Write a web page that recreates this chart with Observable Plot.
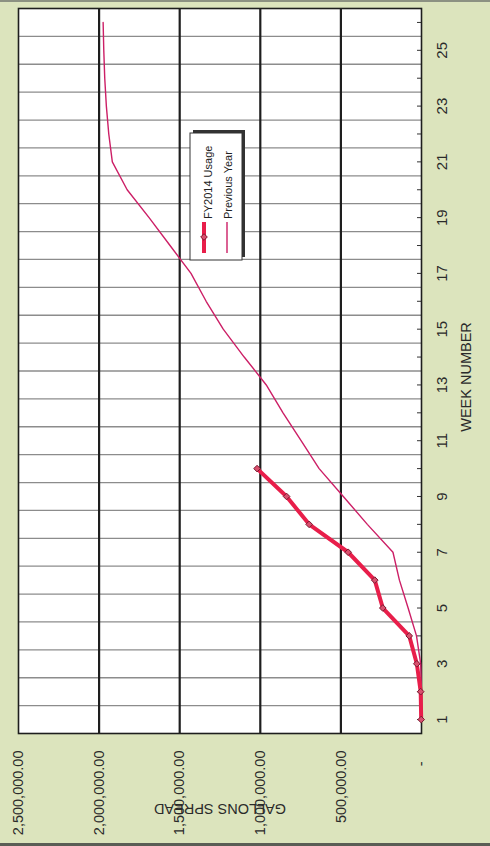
<!DOCTYPE html>
<html>
<head>
<meta charset="utf-8">
<script src="https://cdn.jsdelivr.net/npm/d3@7"></script>
<script src="https://cdn.jsdelivr.net/npm/@observablehq/plot@0.6"></script>
<style>
  html, body { margin: 0; padding: 0; background: #dce4bd; }
  #page { position: relative; width: 490px; height: 846px; background: #dce4bd; overflow: hidden; }
  #page svg { display: block; }
  .edge-top { position: absolute; left: 0; top: 0; width: 490px; height: 2px; background: #8c9182; }
  .edge-bottom { position: absolute; left: 0; bottom: 0; width: 490px; height: 3px; background: #5a5d55; }
  #legend { position: absolute; left: 187px; top: 130px; }
</style>
</head>
<body>
<div id="page"></div>
<script>
// ---- data ----
const weeks = [1, 2, 3, 4, 5, 6, 7, 8, 9, 10, 11, 12, 13, 14, 15, 16, 17, 18, 19, 20, 21, 22, 23, 24, 25, 26];
const weekTickLabels = [1, 3, 5, 7, 9, 11, 13, 15, 17, 19, 21, 23, 25];
const fy2014Usage = [2000, 5000, 29000, 76000, 240000, 290000, 455000, 697000, 837000, 1020000];
const previousYear = [0, 0, 5000, 31000, 83000, 137000, 177000, 336000, 485000, 635000, 747000, 859000, 963000,
  1100000, 1230000, 1336000, 1430000, 1560000, 1690000, 1826000, 1918000, 1940000, 1955000, 1965000, 1971000, 1975000];
const gallonTicks = [0, 500000, 1000000, 1500000, 2000000, 2500000];
const seriesNames = ["FY2014 Usage", "Previous Year"];
const xTitle = "GALLONS SPREAD";
const yTitle = "WEEK NUMBER";

// ---- styles ----
const colorFY = "#e81e4a";
const colorPrev = "#cc1f66";
const font = "'Liberation Sans', Arial, Helvetica, sans-serif";

const fyData = fy2014Usage.map((v, i) => ({week: weeks[i], gallons: v}));
const prevData = previousYear.map((v, i) => ({week: weeks[i], gallons: v}));
const bandEdges = weeks.slice(0, -1).map(w => w + 0.5);
const innerGrid = gallonTicks.filter(v => v > 0 && v < gallonTicks[gallonTicks.length - 1]);
const fmt = d3.format(",.2f");

const chart = Plot.plot({
  width: 490,
  height: 846,
  marginLeft: 18,
  marginRight: 69,
  marginTop: 8,
  marginBottom: 113,
  style: {background: "transparent", fontFamily: font, fontSize: "14.5px", color: "#2a2a2a", overflow: "visible"},
  x: {domain: [gallonTicks[0], gallonTicks[gallonTicks.length - 1]], reverse: true, label: null},
  y: {domain: [weeks[0] - 0.5, weeks[weeks.length - 1] + 0.5], label: null},
  marks: [
    Plot.frame({fill: "white", stroke: null}),
    Plot.ruleY(bandEdges, {stroke: "#8c8c8c", strokeWidth: 1.3}),
    Plot.ruleX(innerGrid, {stroke: "#1e1e1e", strokeWidth: 2.2}),
    Plot.tickY(weeks, {y: d => d, insetLeft: 399, stroke: "#333", strokeWidth: 1}),
    Plot.frame({stroke: "#1e1e1e", strokeWidth: 1.6}),
    Plot.axisX(gallonTicks, {
      anchor: "bottom", tickSize: 0, tickPadding: 17, tickRotate: -90,
      textAnchor: "end", lineAnchor: "middle", fontSize: 14.5, label: null,
      tickFormat: v => v === 0 ? "-\u2007\u2009" : fmt(v)
    }),
    Plot.axisY(weekTickLabels, {
      anchor: "right", tickSize: 0, tickPadding: 21, tickRotate: -90,
      textAnchor: "middle", lineAnchor: "middle", fontSize: 15, label: null
    }),
    Plot.text([xTitle], {frameAnchor: "bottom", dy: 75, rotate: 180, text: d => d,
      textAnchor: "middle", lineAnchor: "middle", fontSize: 14.5, fill: "#2a2a2a"}),
    Plot.text([yTitle], {frameAnchor: "right", dx: 45, dy: 6, rotate: -90, text: d => d,
      textAnchor: "middle", lineAnchor: "middle", fontSize: 14.5, fill: "#2a2a2a"}),
    Plot.line(prevData, {x: "gallons", y: "week", stroke: colorPrev, strokeWidth: 1.4}),
    Plot.line(fyData, {x: "gallons", y: "week", stroke: colorFY, strokeWidth: 4}),
    Plot.dot(fyData, {x: "gallons", y: "week", symbol: "diamond2", r: 3, fill: "#d9506e", stroke: "#7a1a30", strokeWidth: 1})
  ]
});

const page = document.getElementById("page");
page.appendChild(chart);

const edgeTop = document.createElement("div"); edgeTop.className = "edge-top"; page.appendChild(edgeTop);
const edgeBottom = document.createElement("div"); edgeBottom.className = "edge-bottom"; page.appendChild(edgeBottom);

// ---- legend (rotated like the chart) ----
const lg = d3.select(page).append("svg")
  .attr("id", "legend")
  .attr("width", 60)
  .attr("height", 134)
  .style("font-family", font);
lg.append("rect").attr("x", 6).attr("y", 0).attr("width", 52).attr("height", 127).attr("fill", "#333");
lg.append("rect").attr("x", 3).attr("y", 3).attr("width", 52).attr("height", 127)
  .attr("fill", "white").attr("stroke", "#333").attr("stroke-width", 1);
const items = [
  {name: seriesNames[0], color: colorFY, width: 4, marker: true, lineX: 17, textX: 21},
  {name: seriesNames[1], color: colorPrev, width: 1.4, marker: false, lineX: 40, textX: 41}
];
items.forEach(it => {
  lg.append("line").attr("x1", it.lineX).attr("x2", it.lineX).attr("y1", 92).attr("y2", 123)
    .attr("stroke", it.color).attr("stroke-width", it.width);
  if (it.marker) {
    lg.append("path").attr("d", d3.symbol(d3.symbolDiamond2, 28)()).attr("transform", `translate(${it.lineX},107)`)
      .attr("fill", "#d9506e").attr("stroke", "#7a1a30");
  }
  lg.append("text").attr("transform", `translate(${it.textX},89) rotate(-90)`)
    .attr("dy", "0.35em").attr("font-size", 11).attr("fill", "#222").text(it.name);
});
</script>
</body>
</html>
